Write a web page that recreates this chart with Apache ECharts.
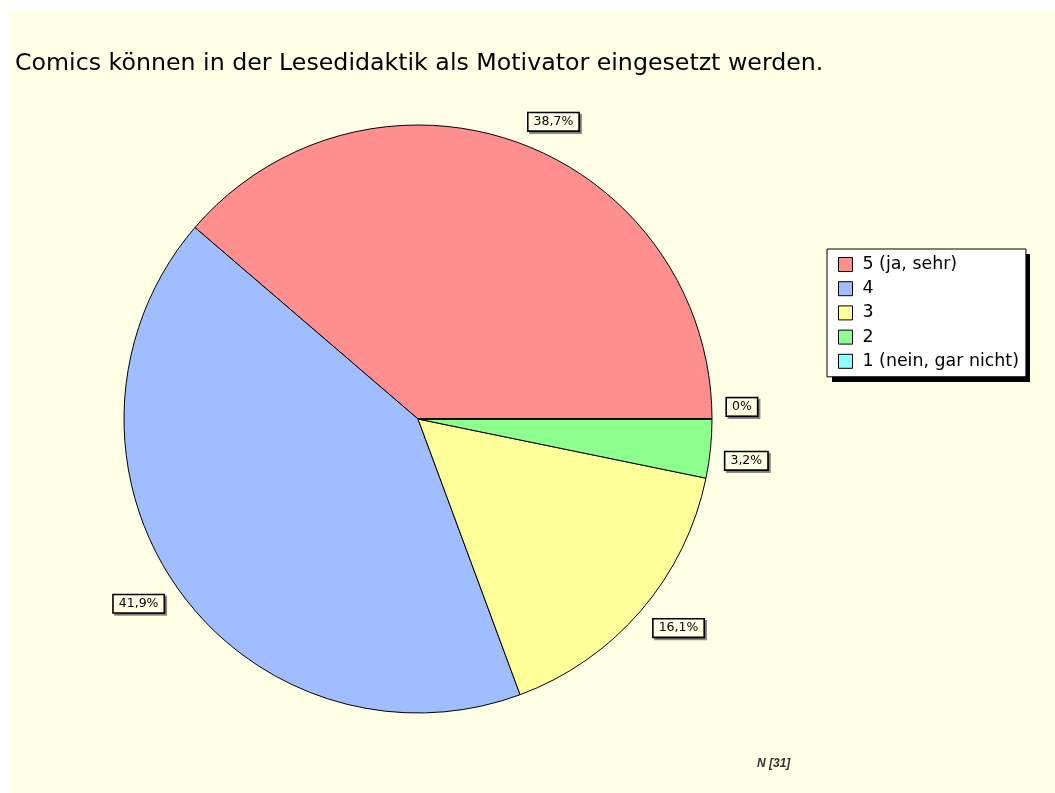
<!DOCTYPE html>
<html>
<head>
<meta charset="utf-8">
<script src="https://cdn.jsdelivr.net/npm/echarts@6/dist/echarts.min.js"></script>
<style>
html,body{margin:0;padding:0;background:#fff;}
#wrap{position:absolute;left:9px;top:11px;width:1046px;height:782px;background:#FFFFE6;}
#chart{width:1046px;height:782px;}
</style>
</head>
<body>
<div id="wrap"><div id="chart"></div></div>
<script>
const titleText = 'Comics können in der Lesedidaktik als Motivator eingesetzt werden.';
const categories = ['5 (ja, sehr)', '4', '3', '2', '1 (nein, gar nicht)'];
const counts = [12, 13, 5, 1, 0];
const colors = ['#FF8E8E', '#A0BEFF', '#FFFF99', '#8CFF8C', '#8CFFFF'];
const nText = 'N [31]';

const total = counts.reduce((a, b) => a + b, 0);
const data = categories.map((c, i) => ({ name: c, value: counts[i], itemStyle: { color: colors[i] } }));

// mid angle (deg, counter-clockwise from 3 o'clock) of each slice, derived from data
const midAngles = [];
{
  let cum = 0;
  counts.forEach(v => { midAngles.push(((cum + v / 2) / total * 360) % 360); cum += v; });
}

const chart = echarts.init(document.getElementById('chart'), null, { renderer: 'canvas' });
chart.setOption({
  backgroundColor: '#FFFFE6',
  animation: false,
  title: [{
    text: titleText,
    left: 1, top: 36,
    textStyle: { fontFamily: 'DejaVu Sans', fontSize: 23.7, fontWeight: 'normal', color: '#000' }
  }, {
    text: nText,
    left: 743, top: 742,
    textStyle: { fontFamily: 'Liberation Sans', fontSize: 12, fontWeight: 'bold', fontStyle: 'italic', color: '#333' }
  }],
  graphic: [{
    type: 'rect',
    z: 0,
    shape: { x: 823, y: 243, width: 198, height: 128 },
    style: { fill: '#000' }
  }],
  legend: {
    orient: 'vertical',
    left: 818, top: 238,
    data: categories,
    z: 5,
    backgroundColor: '#FFFFFF',
    borderColor: '#000',
    borderWidth: 1,
    borderRadius: 0,
    padding: [7, 7, 7, 11],
    itemWidth: 14,
    itemHeight: 14,
    itemGap: 7.2,
    icon: 'rect',
    itemStyle: { borderColor: '#000', borderWidth: 1 },
    textStyle: { fontFamily: 'DejaVu Sans', fontSize: 17.4, color: '#000', padding: [0, 0, 0, 5] }
  },
  series: [{
    type: 'pie',
    center: [409, 408],
    radius: 294,
    startAngle: 0,
    clockwise: false,
    avoidLabelOverlap: false,
    minShowLabelAngle: 0,
    stillShowZeroSum: true,
    itemStyle: { borderColor: '#000', borderWidth: 1 },
    label: {
      show: true,
      position: 'outside',
      formatter: p => {
        const v = Math.round(p.value / total * 1000) / 10;
        return String(v).replace('.', ',') + '%';
      },
      fontFamily: 'DejaVu Sans',
      fontSize: 12.5,
      color: '#000',
      backgroundColor: '#FFFFE6',
      borderColor: '#000',
      borderWidth: 1.6,
      padding: [3, 5, 1, 5],
      shadowColor: 'rgba(0,0,0,0.45)',
      shadowOffsetX: 2,
      shadowOffsetY: 2,
      shadowBlur: 0
    },
    labelLine: { show: true, length: 10, length2: 0, lineStyle: { color: '#FFFFFF', width: 1 } },
    labelLayout: params => {
      const a = midAngles[params.dataIndex] * Math.PI / 180;
      const up = Math.sin(a) >= -1e-9;
      const h = params.labelRect.height;
      return { dy: up ? -h / 2 - 2 : h / 2 + 1 };
    },
    emphasis: { disabled: true },
    data: data
  }]
});
</script>
</body>
</html>
